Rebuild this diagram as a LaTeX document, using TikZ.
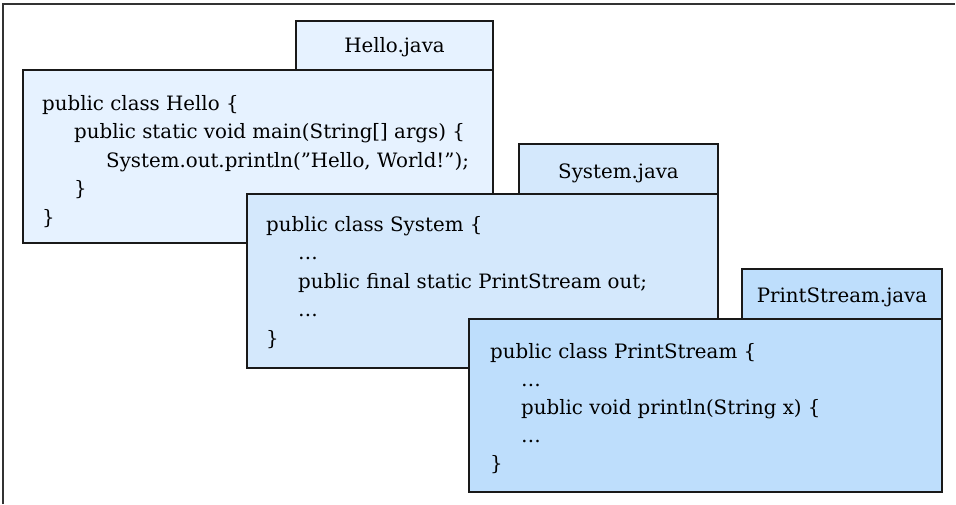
\documentclass[tikz,border=0pt]{standalone}
\usepackage{fontspec}
\setmainfont{DejaVu Serif}
\definecolor{helloblue}{RGB}{230,242,255}
\definecolor{systemblue}{RGB}{212,232,252}
\definecolor{streamblue}{RGB}{190,222,252}
\tikzset{
  panel/.style={draw=black!90,line width=2.8pt},
  code/.style={anchor=base west,inner sep=0pt,font=\fontsize{19.8}{23}\selectfont},
  tablabel/.style={anchor=base,inner sep=0pt,font=\fontsize{19.8}{23}\selectfont}
}
\begin{document}
\begin{tikzpicture}[x=1pt,y=-1pt]
      \useasboundingbox (0,0) rectangle (956,504);
      \draw[line width=1.5pt,black!80] (3,504) -- (3,4) -- (955,4);
      % Hello.java
      \draw[panel,fill=helloblue] (296,21) rectangle (493,70);
      \draw[panel,fill=helloblue] (23,70) rectangle (493,243);
      \node[tablabel] (helloTab) at (394.5,52) {Hello.java};
      \node[code] (hello1) at (42,110) {public class Hello \{};
      \node[code] (hello2) at (74,138.5) {public static void main(String[] args) \{};
      \node[code] (hello3) at (106,167) {System.out.println(\symbol{34}Hello, World!\symbol{34});};
      \node[code] (hello4) at (74,195.5) {\}};
      \node[code] (hello5) at (42,224) {\}};
      % System.java
      \draw[panel,fill=systemblue] (519,144) rectangle (718,194);
      \draw[panel,fill=systemblue] (247,194) rectangle (718,368);
      \node[tablabel] (systemTab) at (618.5,178) {System.java};
      \node[code] (system1) at (266,231) {public class System \{};
      \node[code] (system2) at (298,259.5) {\dots};
      \node[code] (system3) at (298,288) {public final static PrintStream out;};
      \node[code] (system4) at (298,316.5) {\dots};
      \node[code] (system5) at (266,345) {\}};
      % PrintStream.java
      \draw[panel,fill=streamblue] (742,269) rectangle (942,319);
      \draw[panel,fill=streamblue] (469,319) rectangle (942,492);
      \node[tablabel] (streamTab) at (842,302) {PrintStream.java};
      \node[code] (stream1) at (490,358) {public class PrintStream \{};
      \node[code] (stream2) at (521,386) {\dots};
      \node[code] (stream3) at (521,414) {public void println(String x) \{};
      \node[code] (stream4) at (521,442) {\dots};
      \node[code] (stream5) at (490,470) {\}};
\end{tikzpicture}
\end{document}
